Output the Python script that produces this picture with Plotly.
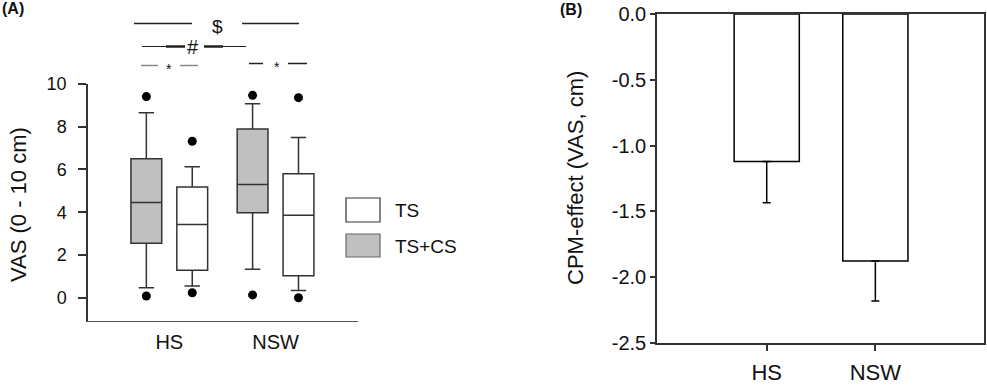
import plotly.graph_objects as go

# ---------------- data ----------------
groups = ["HS", "NSW"]

# Panel A: box-plot statistics (VAS, 0-10 cm)
tscs_q1 = [2.55, 3.98]
tscs_median = [4.45, 5.30]
tscs_q3 = [6.50, 7.90]
tscs_lowfence = [0.47, 1.33]
tscs_upfence = [8.66, 9.08]
tscs_out_low = [0.08, 0.13]
tscs_out_high = [9.41, 9.47]

ts_q1 = [1.28, 1.03]
ts_median = [3.42, 3.86]
ts_q3 = [5.18, 5.80]
ts_lowfence = [0.55, 0.34]
ts_upfence = [6.13, 7.50]
ts_out_low = [0.23, 0.00]
ts_out_high = [7.32, 9.36]

yA_ticks = [0, 2, 4, 6, 8, 10]

# Panel B: CPM effect (mean, SE)
cpm_mean = [-1.12, -1.876]
cpm_err = [0.315, 0.305]
yB_ticks = [0.0, -0.5, -1.0, -1.5, -2.0, -2.5]
yB_ticktext = ["0.0", "-0.5", "-1.0", "-1.5", "-2.0", "-2.5"]

# ---------------- layout helpers ----------------
W, H = 987, 386


def px(x):
    return x / W


def py(y):
    return 1 - y / H


FONT = "Liberation Sans, Arial, sans-serif"
LINE = "#333333"
GRAY = "#c0c0c0"

fig = go.Figure()

pos = list(range(1, len(groups) + 1))
off = 0.216
bw = 0.29

# Panel A boxes
for i, p in enumerate(pos):
    fig.add_trace(go.Box(
        x=[p - off], q1=[tscs_q1[i]], median=[tscs_median[i]], q3=[tscs_q3[i]],
        lowerfence=[tscs_lowfence[i]], upperfence=[tscs_upfence[i]],
        width=bw, whiskerwidth=0.5, fillcolor=GRAY,
        line=dict(color=LINE, width=1.5), boxpoints=False,
        showlegend=False, xaxis="x", yaxis="y", hoverinfo="skip"))
    fig.add_trace(go.Box(
        x=[p + off], q1=[ts_q1[i]], median=[ts_median[i]], q3=[ts_q3[i]],
        lowerfence=[ts_lowfence[i]], upperfence=[ts_upfence[i]],
        width=bw, whiskerwidth=0.5, fillcolor="white",
        line=dict(color=LINE, width=1.5), boxpoints=False,
        showlegend=False, xaxis="x", yaxis="y", hoverinfo="skip"))

out_x = [p - off for p in pos] * 2 + [p + off for p in pos] * 2
out_y = tscs_out_low + tscs_out_high + ts_out_low + ts_out_high
fig.add_trace(go.Scatter(
    x=out_x, y=out_y, mode="markers",
    marker=dict(color="black", size=9), showlegend=False,
    xaxis="x", yaxis="y", cliponaxis=False))

# Panel B bars
fig.add_trace(go.Bar(
    x=groups, y=cpm_mean, width=0.6,
    marker=dict(color="white", line=dict(color="black", width=1.5)),
    error_y=dict(type="data", symmetric=False,
                 array=[0] * len(cpm_err), arrayminus=cpm_err,
                 color="black", thickness=1.5, width=4),
    showlegend=False, xaxis="x2", yaxis="y2"))

fig.update_layout(
    template="none",
    width=W, height=H,
    margin=dict(l=0, r=0, t=0, b=0, autoexpand=False),
    paper_bgcolor="white", plot_bgcolor="white",
    font=dict(family=FONT, color="#111111"),
    xaxis=dict(domain=[px(88), px(358)], range=[0.235, 2.776],
               tickvals=pos, ticktext=groups, ticks="",
               showline=True, linecolor="#555555", linewidth=1.2,
               showgrid=False, zeroline=False, automargin=False,
               tickfont=dict(size=20), ticklabelstandoff=3),
    yaxis=dict(domain=[py(321), py(84)], range=[-1.09, 10],
               tickvals=yA_ticks, ticks="outside", ticklen=8,
               tickcolor=LINE, tickwidth=1.5,
               showline=True, linecolor=LINE, linewidth=1.5,
               showgrid=False, zeroline=False, automargin=False,
               tickfont=dict(size=18), ticklabelstandoff=8),
    xaxis2=dict(domain=[px(657), px(984)], range=[-1.01, 2.0],
                anchor="y2", ticks="outside", ticklen=6,
                tickcolor=LINE, tickwidth=1.5,
                showline=True, mirror=True, linecolor=LINE, linewidth=1.5,
                showgrid=False, zeroline=False, automargin=False,
                tickfont=dict(size=22), ticklabelstandoff=3),
    yaxis2=dict(domain=[py(343), py(14)], range=[-2.5, 0.0],
                anchor="x2", tickvals=yB_ticks, ticktext=yB_ticktext,
                ticks="outside", ticklen=5, tickcolor=LINE, tickwidth=1.5,
                showline=True, mirror=True, linecolor=LINE, linewidth=1.5,
                showgrid=False, zeroline=False, automargin=False,
                tickfont=dict(size=20)),
)

shapes = []
annotations = []


def hline(x0, x1, y, color="#222222", width=1.5):
    shapes.append(dict(type="line", xref="paper", yref="paper",
                       x0=px(x0), x1=px(x1), y0=py(y), y1=py(y),
                       line=dict(color=color, width=width)))


def text(x, y, s, size, xanchor="center", yanchor="middle", color="#111111", **kw):
    annotations.append(dict(xref="paper", yref="paper", x=px(x), y=py(y),
                            text=s, showarrow=False, xanchor=xanchor,
                            yanchor=yanchor, font=dict(size=size, color=color, **kw)))


# significance brackets (panel A)
hline(134, 192, 23.5)
hline(242, 299, 23.5)
text(217, 26, "$", 19)
hline(142, 185, 46.5, width=1.2)
hline(166, 185, 46.5, width=2.5)
hline(204, 246, 46.5, width=1.2)
hline(204, 223, 46.5, width=2.5)
text(193, 47, "#", 20)
hline(141, 158, 65.5, color="#888888", width=1.5)
hline(180, 198, 65.5, color="#888888", width=1.5)
text(169, 69, "*", 14)
hline(249, 263, 63.5)
hline(288, 307, 63.5)
text(277, 67, "*", 14)

# legend (drawn)
shapes.append(dict(type="rect", xref="paper", yref="paper",
                   x0=px(346), x1=px(380), y0=py(222), y1=py(198),
                   line=dict(color=LINE, width=1.2), fillcolor="white"))
shapes.append(dict(type="rect", xref="paper", yref="paper",
                   x0=px(346), x1=px(380), y0=py(257), y1=py(234),
                   line=dict(color="#666666", width=1.2), fillcolor=GRAY))
text(393, 210, "TS", 19, xanchor="left")
text(393, 246, "TS+CS", 19, xanchor="left")

# axis titles
annotations.append(dict(xref="paper", yref="paper", x=px(18), y=py(205),
                        text="VAS (0 - 10 cm)", textangle=-90, showarrow=False,
                        xanchor="center", yanchor="middle",
                        font=dict(size=22, color="#111111")))
annotations.append(dict(xref="paper", yref="paper", x=px(575), y=py(178),
                        text="CPM-effect (VAS, cm)", textangle=-90,
                        showarrow=False, xanchor="center", yanchor="middle",
                        font=dict(size=22, color="#111111")))

# panel labels
PANEL_FONT = "Liberation Sans Narrow, Arial Narrow, Liberation Sans, sans-serif"
text(0, 9, "<b>(A)</b>", 16, xanchor="left", family=PANEL_FONT)
text(558, 10, "<b>(B)</b>", 16, xanchor="left", family=PANEL_FONT)

fig.update_layout(shapes=shapes, annotations=annotations)

fig.write_html(
    "out.html",
    config={"displayModeBar": False},
    post_script="document.body.style.margin='0';document.body.style.overflow='hidden';",
)
